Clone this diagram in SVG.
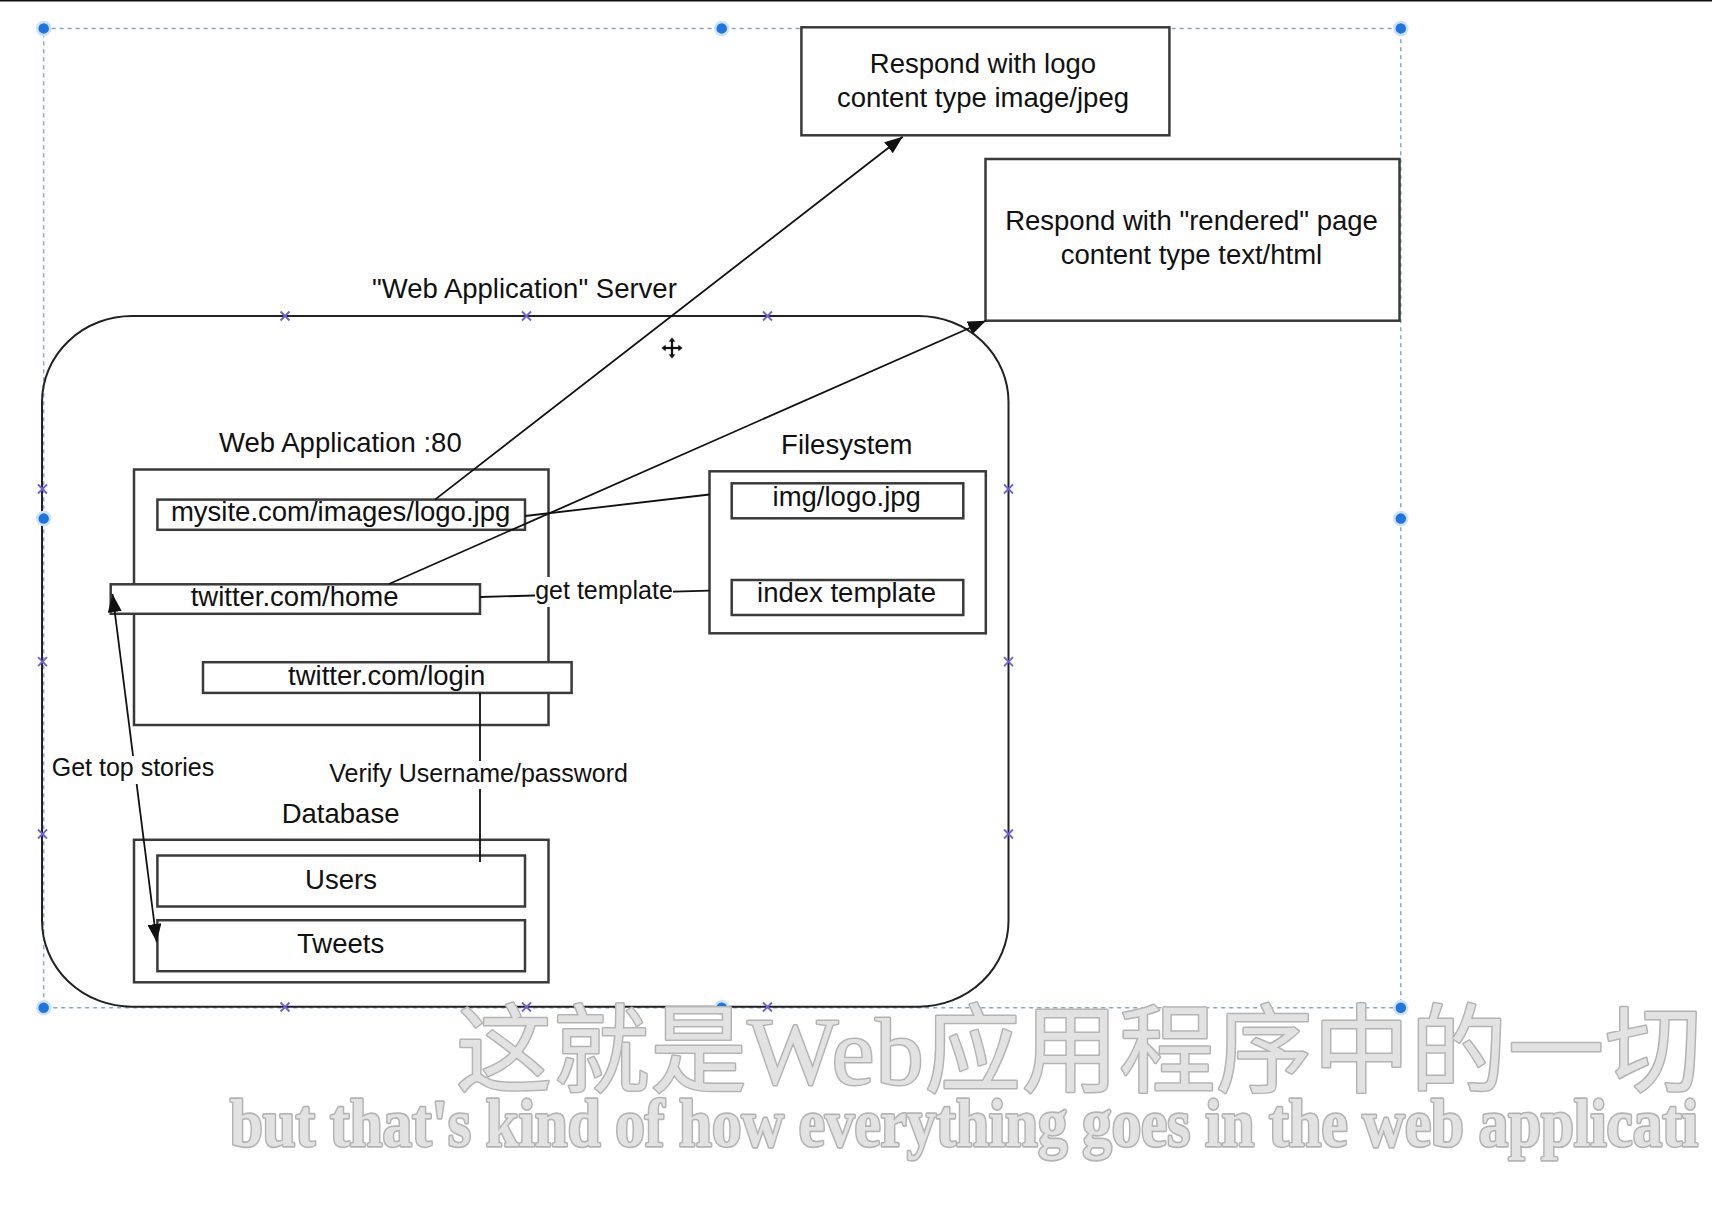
<svg xmlns="http://www.w3.org/2000/svg" width="1712" height="1212" viewBox="0 0 1712 1212">
<style>
.lbl{font-family:"Liberation Sans",Arial,Helvetica,sans-serif;font-size:27.5px;fill:#111;text-anchor:middle}
.sm{font-size:25px}
.box{fill:#fff;stroke:#3a3a3a;stroke-width:2.5}
.srv{fill:none;stroke:#222;stroke-width:2}
.conn{stroke:#111;stroke-width:1.8;fill:none}
.bg{fill:#fff}
.sel{stroke:#86a9c8;stroke-width:1.5;stroke-dasharray:4 4;fill:none}
.handle{fill:#1f75e0;stroke:#cde2fa;stroke-width:2.5}
.xm{stroke:#6d63d6;stroke-width:1.8;fill:none}
.sub{fill:#e2e2e2;stroke:#b4b4b4;stroke-width:3;paint-order:stroke;stroke-linejoin:round}
</style>
<defs>
<marker id="ah" viewBox="0 0 18 14" refX="18" refY="7" markerWidth="18" markerHeight="14" orient="auto-start-reverse" markerUnits="userSpaceOnUse">
<path d="M0,0 L18,7 L0,14 Z" fill="#111"/>
</marker>
<path id="xm" class="xm" d="M-4.5,-4.5L4.5,4.5M4.5,-4.5L-4.5,4.5"/>
</defs>
<rect x="0" y="0" width="1712" height="1212" fill="#fff"/>
<rect x="0" y="0" width="1712" height="1.5" fill="#111"/>

<rect class="sel" x="43.7" y="28.4" width="1357.1" height="979.3"/>

<g id="server">
<rect class="srv" x="42" y="316" width="966.5" height="690.7" rx="90" ry="86"/>
<text class="lbl" x="524.4" y="297.7">"Web Application" Server</text>
<use href="#xm" x="285" y="316"/><use href="#xm" x="526.5" y="316"/><use href="#xm" x="767.5" y="316"/>
<use href="#xm" x="285" y="1007"/><use href="#xm" x="526.5" y="1007"/><use href="#xm" x="767.5" y="1007"/>
<use href="#xm" x="42.5" y="489"/><use href="#xm" x="42.5" y="661.6"/><use href="#xm" x="42.5" y="834"/>
<use href="#xm" x="1008.5" y="489"/><use href="#xm" x="1008.5" y="661.6"/><use href="#xm" x="1008.5" y="834"/>
</g>

<g id="respond-logo">
<rect class="box" x="801.4" y="27.3" width="368" height="108"/>
<text class="lbl" x="983" y="72.5">Respond with logo</text>
<text class="lbl" x="983" y="106.5">content type image/jpeg</text>
</g>

<g id="respond-rendered">
<rect class="box" x="985.5" y="159" width="414" height="161.7"/>
<text class="lbl" x="1191.5" y="230">Respond with "rendered" page</text>
<text class="lbl" x="1191.5" y="264">content type text/html</text>
</g>

<g id="web-app">
<text class="lbl" x="340.4" y="451.5">Web Application :80</text>
<rect class="box" x="134" y="469.5" width="414.5" height="255.5"/>
</g>
<g id="mysite-logo">
<rect class="box" x="157.4" y="499.6" width="367.6" height="30.2"/>
<text class="lbl" x="340.6" y="520.5">mysite.com/images/logo.jpg</text>
</g>
<g id="twitter-home">
<rect class="box" x="110.7" y="584.3" width="369.3" height="29.5"/>
<text class="lbl" x="294.6" y="606.3">twitter.com/home</text>
</g>
<g id="twitter-login">
<rect class="box" x="203" y="662.2" width="368.6" height="30.7"/>
<text class="lbl" x="386.7" y="684.5">twitter.com/login</text>
</g>

<g id="filesystem">
<text class="lbl" x="846.8" y="454.3">Filesystem</text>
<rect class="box" x="709.5" y="471.3" width="276.3" height="162"/>
</g>
<g id="img-logo">
<rect class="box" x="731.7" y="483.3" width="231.6" height="35"/>
<text class="lbl" x="846.7" y="506">img/logo.jpg</text>
</g>
<g id="index-template">
<rect class="box" x="731.7" y="580" width="231.6" height="35"/>
<text class="lbl" x="846.5" y="602.3">index template</text>
</g>

<g id="database">
<text class="lbl" x="340.6" y="822.6">Database</text>
<rect class="box" x="134" y="839.8" width="414.5" height="142.5"/>
</g>
<g id="users">
<rect class="box" x="157.4" y="855.5" width="367.6" height="51"/>
<text class="lbl" x="341" y="888.8">Users</text>
</g>
<g id="tweets">
<rect class="box" x="157.4" y="920.2" width="367.6" height="51"/>
<text class="lbl" x="340.6" y="953">Tweets</text>
</g>

<g id="connectors">
<line class="conn" x1="435" y1="499.6" x2="902.7" y2="136.7" marker-end="url(#ah)"/>
<line class="conn" x1="389" y1="584" x2="986" y2="320.7" marker-end="url(#ah)"/>
<line class="conn" x1="525" y1="516" x2="709.5" y2="494.5"/>
<line class="conn" x1="480" y1="597" x2="709.5" y2="590.7"/>
<rect class="bg" x="535" y="577" width="138" height="30"/>
<text class="lbl sm" x="604" y="599">get template</text>
<line class="conn" x1="480" y1="693" x2="480" y2="862"/>
<rect class="bg" x="328" y="761" width="301" height="28"/>
<text class="lbl sm" x="478.6" y="781.6">Verify Username/password</text>
<line class="conn" x1="112.5" y1="594" x2="156.7" y2="942" marker-start="url(#ah)" marker-end="url(#ah)"/>
<rect class="bg" x="51" y="756" width="164" height="28"/>
<text class="lbl sm" x="133" y="776">Get top stories</text>
</g>

<g id="handles">
<circle class="handle" cx="43.7" cy="28.4" r="6.5"/>
<circle class="handle" cx="721.7" cy="28.4" r="6.5"/>
<circle class="handle" cx="1400.8" cy="28.4" r="6.5"/>
<circle class="handle" cx="43.7" cy="518.6" r="6.5"/>
<circle class="handle" cx="1400.8" cy="518.6" r="6.5"/>
<circle class="handle" cx="43.7" cy="1007.7" r="6.5"/>
<circle class="handle" cx="721.7" cy="1007.7" r="6.5"/>
<circle class="handle" cx="1400.8" cy="1007.7" r="6.5"/>
</g>

<g id="cursor" fill="#111" stroke="#fff" stroke-width="0.8">
<path d="M672,337 L676,342 L673.5,342 L673.5,346.5 L678,346.5 L678,344 L683,348 L678,352 L678,349.5 L673.5,349.5 L673.5,354 L676,354 L672,359 L668,354 L670.5,354 L670.5,349.5 L666,349.5 L666,352 L661,348 L666,344 L666,346.5 L670.5,346.5 L670.5,342 L668,342 Z"/>
</g>

<g id="subtitles">
<text class="sub" x="456" y="1084" font-family="'Liberation Serif','Noto Sans CJK SC',serif" font-size="96" letter-spacing="1.2">这就是Web应用程序中的一切</text>
<text class="sub" transform="translate(230,1146) scale(1,1.15)" font-family="'Liberation Serif',serif" font-weight="bold" font-size="59">but that's kind of how everything goes in the web applicati</text>
</g>
</svg>
